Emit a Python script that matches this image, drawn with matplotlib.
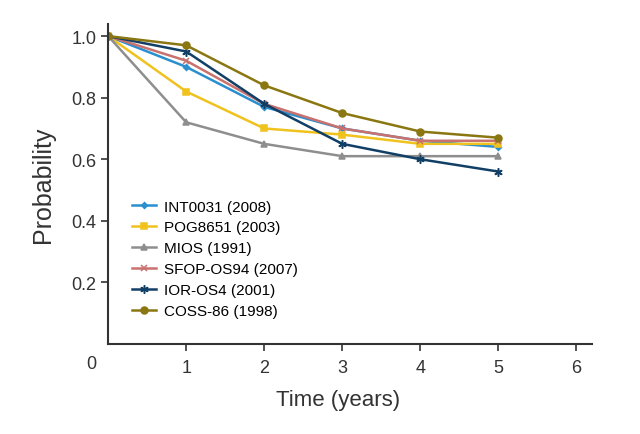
import matplotlib
matplotlib.use("Agg")
import matplotlib.pyplot as plt

plt.rcParams['font.family'] = ['Liberation Sans', 'DejaVu Sans']

time = [0, 1, 2, 3, 4, 5]
int0031 = [1.0, 0.90, 0.77, 0.70, 0.66, 0.64]
pog8651 = [1.0, 0.82, 0.70, 0.68, 0.65, 0.65]
mios = [1.0, 0.72, 0.65, 0.61, 0.61, 0.61]
sfop = [1.0, 0.92, 0.78, 0.70, 0.66, 0.66]
ior = [1.0, 0.95, 0.78, 0.65, 0.60, 0.56]
coss = [1.0, 0.97, 0.84, 0.75, 0.69, 0.67]

labels = ["INT0031 (2008)", "POG8651 (2003)", "MIOS (1991)",
          "SFOP-OS94 (2007)", "IOR-OS4 (2001)", "COSS-86 (1998)"]
series = [int0031, pog8651, mios, sfop, ior, coss]
colors = ["#2a8fcf", "#f0c21e", "#8e8e8e", "#c9716e", "#123f66", "#8a7712"]
markers = ["D", "s", "^", "x", (6, 2, 0), "o"]
msizes = [3, 4.5, 4.5, 5, 6, 5]

fig = plt.figure(figsize=(6.4, 4.35), dpi=100)
ax = fig.add_axes([0.169, 0.207, 0.756, 0.736])

for y, lab, c, m, ms in zip(series, labels, colors, markers, msizes):
    ax.plot(time, y, color=c, marker=m, markersize=ms, linewidth=1.8,
            markeredgewidth=1.1, label=lab)

ax.set_xlim(0, 6.2)
ax.set_ylim(0, 1.04)
ax.set_xticks([1, 2, 3, 4, 5, 6])
ax.set_yticks([0.2, 0.4, 0.6, 0.8, 1.0])
ax.set_yticklabels(["0.2", "0.4", "0.6", "0.8", "1.0"])
ax.text(-0.21, -0.065, "0", transform=ax.transData, ha='center', va='center',
        fontsize=13, color="#333333", clip_on=False)
ax.spines['top'].set_visible(False)
ax.spines['right'].set_visible(False)
for s in ['left', 'bottom']:
    ax.spines[s].set_linewidth(1.5)
    ax.spines[s].set_color("#333333")
ax.tick_params(axis='both', direction='out', length=5, width=1.2,
               colors="#333333", labelsize=13, labelcolor="#333333")
ax.tick_params(axis='x', pad=6)
ax.set_xlabel("Time (years)", fontsize=16, color="#333333")
ax.xaxis.set_label_coords(2.95 / 6.2, -0.14)
ax.set_ylabel("Probability", fontsize=18, color="#333333", labelpad=12)

ax.legend(loc='upper left', bbox_to_anchor=(0.02, 0.494), frameon=False,
          fontsize=11, handlelength=1.6, handletextpad=0.5, labelspacing=0.45)

fig.savefig("out.png", dpi=100, facecolor='white')
